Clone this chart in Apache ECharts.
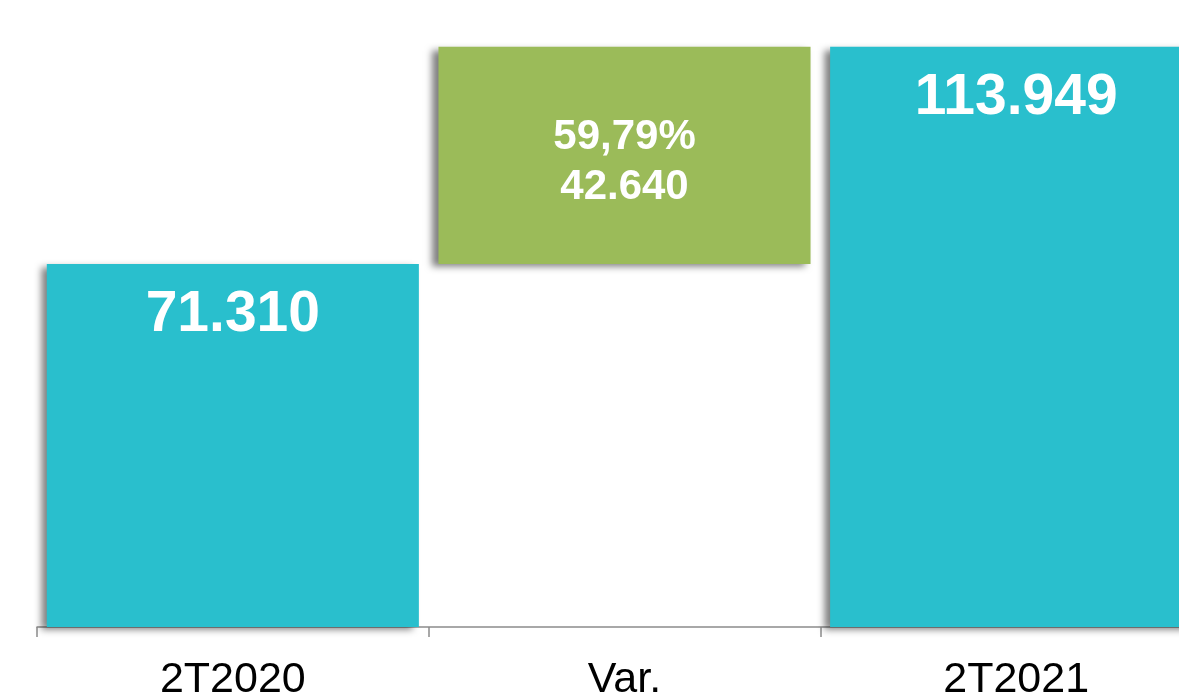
<!DOCTYPE html>
<html>
<head>
<meta charset="utf-8">
<script src="https://cdn.jsdelivr.net/npm/echarts@6/dist/echarts.min.js"></script>
<style>
html,body{margin:0;padding:0;background:#fff;}
#chart{width:1179px;height:697px;}
</style>
</head>
<body>
<div id="chart"></div>
<script>
var categories = ['2T2020', 'Var.', '2T2021'];
var values = [71310, 42640, 113949];
var variationPct = '59,79%';

function fmt(v) {
  return String(v).replace(/\B(?=(\d{3})+(?!\d))/g, '.');
}

var teal = '#29bfcd';
var green = '#9bbb59';
var shadow = {
  shadowColor: 'rgba(0,0,0,0.5)',
  shadowBlur: 7,
  shadowOffsetX: -6,
  shadowOffsetY: 3
};

var baseData = [0, values[0], 0];
var barData = values.map(function (v, i) {
  return {
    value: v,
    itemStyle: Object.assign({ color: i === 1 ? green : teal }, shadow),
    label: i === 1 ? {
      position: 'inside',
      offset: [0, 7],
      fontSize: 42,
      lineHeight: 50,
      formatter: variationPct + '\n' + fmt(v)
    } : {
      position: 'insideTop',
      distance: 23,
      fontSize: 57,
      formatter: fmt(v)
    }
  };
});

var chart = echarts.init(document.getElementById('chart'));
chart.setOption({
  animation: false,
  grid: { left: 37, width: 1175, top: 16, bottom: 70, containLabel: false, outerBoundsMode: 'none' },
  xAxis: {
    type: 'category',
    data: categories,
    axisLine: { lineStyle: { color: '#8c8c8c', width: 1.5 } },
    axisTick: { show: true, length: 10, lineStyle: { color: '#8c8c8c', width: 1.5 } },
    axisLabel: {
      color: '#000',
      fontSize: 43,
      fontFamily: 'Liberation Sans, Arial, sans-serif',
      margin: 32
    }
  },
  yAxis: {
    type: 'value',
    min: 0,
    max: 120000,
    show: false,
    splitLine: { show: false }
  },
  series: [
    {
      type: 'bar',
      stack: 'w',
      data: baseData,
      itemStyle: { color: 'transparent' },
      barCategoryGap: '5%',
      silent: true
    },
    {
      type: 'bar',
      stack: 'w',
      data: barData,
      barCategoryGap: '5%',
      label: {
        show: true,
        color: '#fff',
        fontWeight: 'bold',
        fontFamily: 'Liberation Sans, Arial, sans-serif'
      }
    }
  ]
});
</script>
</body>
</html>
